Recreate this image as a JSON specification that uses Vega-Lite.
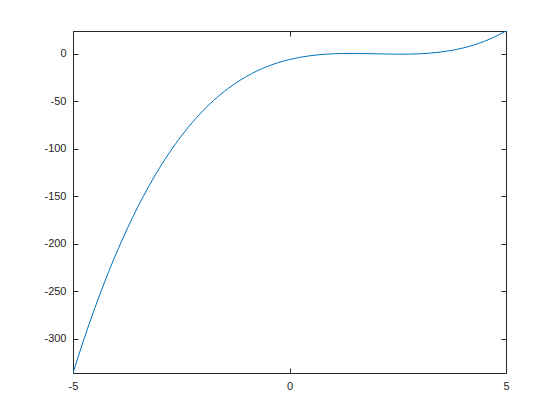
{
  "$schema": "https://vega.github.io/schema/vega-lite/v6.json",
  "autosize": {"type": "none"},
  "width": 433,
  "height": 342,
  "padding": {"left": 73, "top": 31, "right": 54, "bottom": 47},
  "background": "white",
  "data": {
    "values": [
      {"x": -5, "y": -336},
      {"x": -4.75, "y": -300.8},
      {"x": -4.5, "y": -268.13},
      {"x": -4.25, "y": -237.89},
      {"x": -4, "y": -210},
      {"x": -3.75, "y": -184.36},
      {"x": -3.5, "y": -160.88},
      {"x": -3.25, "y": -139.45},
      {"x": -3, "y": -120},
      {"x": -2.75, "y": -102.42},
      {"x": -2.5, "y": -86.63},
      {"x": -2.25, "y": -72.52},
      {"x": -2, "y": -60},
      {"x": -1.75, "y": -48.98},
      {"x": -1.5, "y": -39.38},
      {"x": -1.25, "y": -31.08},
      {"x": -1, "y": -24},
      {"x": -0.75, "y": -18.05},
      {"x": -0.5, "y": -13.13},
      {"x": -0.25, "y": -9.14},
      {"x": 0, "y": -6},
      {"x": 0.25, "y": -3.61},
      {"x": 0.5, "y": -1.88},
      {"x": 0.75, "y": -0.7},
      {"x": 1, "y": 0},
      {"x": 1.25, "y": 0.33},
      {"x": 1.5, "y": 0.38},
      {"x": 1.75, "y": 0.23},
      {"x": 2, "y": 0},
      {"x": 2.25, "y": -0.23},
      {"x": 2.5, "y": -0.38},
      {"x": 2.75, "y": -0.33},
      {"x": 3, "y": 0},
      {"x": 3.25, "y": 0.7},
      {"x": 3.5, "y": 1.88},
      {"x": 3.75, "y": 3.61},
      {"x": 4, "y": 6},
      {"x": 4.25, "y": 9.14},
      {"x": 4.5, "y": 13.13},
      {"x": 4.75, "y": 18.05},
      {"x": 5, "y": 24}
    ]
  },
  "layer": [
    {
      "mark": {"type": "line", "color": "#0072BD", "strokeWidth": 1, "interpolate": "monotone", "clip": true},
      "encoding": {
        "x": {
          "field": "x",
          "type": "quantitative",
          "scale": {"domain": [-5, 5], "nice": false, "zero": false},
          "axis": {"values": [-5, 0, 5], "title": null, "ticks": false, "labelPadding": 7, "labelExpr": "toString(datum.value)"}
        },
        "y": {
          "field": "y",
          "type": "quantitative",
          "scale": {"domain": [-336, 24], "nice": false, "zero": false},
          "axis": {"values": [-300, -250, -200, -150, -100, -50, 0], "title": null, "ticks": false, "labelPadding": 7, "labelExpr": "toString(datum.value)"}
        }
      }
    },
    {
      "mark": {"type": "point", "opacity": 0},
      "encoding": {
        "x": {
          "field": "x",
          "type": "quantitative",
          "axis": {"values": [-5, 0, 5], "title": null, "labels": false, "offset": -5, "orient": "bottom"}
        },
        "y": {
          "field": "y",
          "type": "quantitative",
          "axis": {"values": [-300, -250, -200, -150, -100, -50, 0], "title": null, "labels": false, "offset": -5, "orient": "left"}
        }
      }
    },
    {
      "mark": {"type": "point", "opacity": 0},
      "encoding": {
        "x": {
          "field": "x",
          "type": "quantitative",
          "axis": {"values": [-5, 0, 5], "title": null, "labels": false, "offset": -5, "orient": "top"}
        },
        "y": {
          "field": "y",
          "type": "quantitative",
          "axis": {"values": [-300, -250, -200, -150, -100, -50, 0], "title": null, "labels": false, "offset": -5, "orient": "right"}
        }
      }
    }
  ],
  "resolve": {"axis": {"x": "independent", "y": "independent"}},
  "config": {
    "view": {"stroke": "#262626", "strokeWidth": 1},
    "axis": {
      "grid": false,
      "domain": false,
      "labelFlush": false,
      "tickSize": 5,
      "tickColor": "#262626",
      "tickWidth": 1,
      "labelColor": "#262626",
      "labelFont": "Liberation Sans",
      "labelFontSize": 11
    }
  }
}
